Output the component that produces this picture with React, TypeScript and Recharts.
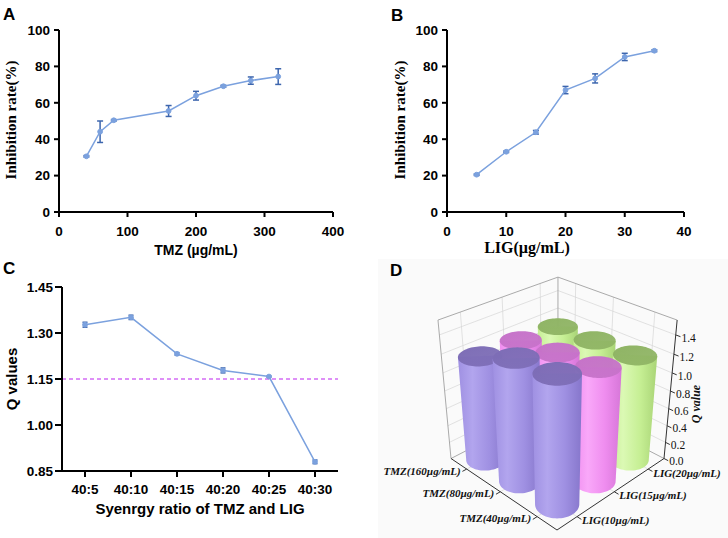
import React from 'react';
import { LineChart, Line, XAxis, YAxis, ErrorBar, ReferenceLine, Customized, ComposedChart } from 'recharts';

// ---------- Data ----------
const TMZ_DOSE = [40, 60, 80, 160, 200, 240, 280, 320];
const TMZ_INHIB = [30.6, 44.1, 50.4, 55.5, 63.9, 69.1, 72.2, 74.4];
const TMZ_ERR = [0.4, 5.9, 0.4, 3.0, 2.4, 0.5, 2.0, 4.3];
const TMZ_TICKS = [0, 100, 200, 300, 400];

const LIG_DOSE = [5, 10, 15, 20, 25, 30, 35];
const LIG_INHIB = [20.5, 33.1, 43.8, 67.0, 73.4, 85.2, 88.6];
const LIG_ERR = [0.4, 0.4, 1.0, 2.0, 2.5, 2.0, 0.5];
const LIG_TICKS = [0, 10, 20, 30, 40];

const INHIB_TICKS = [0, 20, 40, 60, 80, 100];

const RATIOS = ['40:5', '40:10', '40:15', '40:20', '40:25', '40:30'];
const Q_VALUES = [1.327, 1.351, 1.232, 1.178, 1.158, 0.88];
const Q_ERR = [0.008, 0.007, 0.004, 0.008, 0.002, 0.006];
const Q_TICKS_C = [0.85, 1.0, 1.15, 1.3, 1.45];
const Q_THRESHOLD = 1.15;

// Panel D: Q values by LIG level, each listed for TMZ 40, 80, 160
const TMZ_LEVELS = ['TMZ(40µg/mL)', 'TMZ(80µg/mL)', 'TMZ(160µg/mL)'];
const LIG_LEVELS = ['LIG(10µg/mL)', 'LIG(15µg/mL)', 'LIG(20µg/mL)'];
const Q_LIG10 = [1.39, 1.35, 1.18];
const Q_LIG15 = [1.26, 1.22, 1.17];
const Q_LIG20 = [1.19, 1.17, 1.15];
const Q_TICKS_D = [0, 0.2, 0.4, 0.6, 0.8, 1.0, 1.2, 1.4];

const dataA = TMZ_DOSE.map((x, i) => ({ x, y: TMZ_INHIB[i], e: TMZ_ERR[i] }));
const dataB = LIG_DOSE.map((x, i) => ({ x, y: LIG_INHIB[i], e: LIG_ERR[i] }));
const dataC = RATIOS.map((r, i) => ({ r, y: Q_VALUES[i], e: Q_ERR[i] }));
const LIG_SERIES = [Q_LIG10, Q_LIG15, Q_LIG20];
const cylData: { i: number; j: number; q: number }[] = [];
LIG_SERIES.forEach((vals, j) => vals.forEach((q, i) => cylData.push({ i, j, q })));

// ---------- Styles ----------
const SANS = '"Liberation Sans", Arial, Helvetica, sans-serif';
const SERIF = '"Liberation Serif", "Times New Roman", Times, serif';
const LINE = '#7ba1de';
const ERR = '#3d66ae';

const tickStyle = { fontSize: 13.5, fontWeight: 'bold', fill: '#000', fontFamily: SANS };
const axisLine = { stroke: '#000', strokeWidth: 2 };
const tickLine = { stroke: '#000', strokeWidth: 2 };
const dotStyle = { r: 2.4, fill: LINE, stroke: LINE, strokeWidth: 1 };

const Texts = (items: any[]) => () => (
  <g>
    {items.map((t, k) => (
      <text key={k} {...t.props}>{t.text}</text>
    ))}
  </g>
);

// ---------- Panel D projection ----------
const OX = 364, OY = 259;
const CAM = { cx: 557, cy: 400, z0: 6.6, k: 7.6, lean: 0.832, ax: -106, bx: 107, oy: 112.9, ay: -54.4, cz: -129.7, qMax: 1.55 };
function proj(u: number, v: number, q: number): [number, number] {
  const wn = q / CAM.qMax;
  const f = CAM.k / (CAM.z0 + u + v - CAM.lean * wn);
  const xo = u * CAM.ax + v * CAM.bx;
  const yo = CAM.oy + (u + v) * CAM.ay + wn * CAM.cz;
  return [CAM.cx + f * xo - OX, CAM.cy + f * yo - OY];
}
const pt = (p: [number, number]) => `${p[0].toFixed(2)},${p[1].toFixed(2)}`;
const line = (a: [number, number], b: [number, number], stroke: string, w: number, key: string) => (
  <line key={key} x1={a[0]} y1={a[1]} x2={b[0]} y2={b[1]} stroke={stroke} strokeWidth={w} />
);

const COLORS = [
  { top: '#7d6db6', light: '#b2a5ee', mid: '#9f90e2', dark: '#8676cb' },
  { top: '#c672c9', light: '#f9a8f9', mid: '#ef8def', dark: '#d676d8' },
  { top: '#8fb464', light: '#dbf9b4', mid: '#c6ef94', dark: '#a9d476' },
];

const CENTER = (k: number) => (2 * k + 1) / 6;
const RADIUS = 0.134;

function Cylinder({ i, j, q }: { i: number; j: number; q: number }) {
  const u0 = CENTER(i), v0 = CENTER(j);
  const N = 72;
  const bot: [number, number][] = [];
  const top: [number, number][] = [];
  for (let k = 0; k < N; k++) {
    const t = (2 * Math.PI * k) / N;
    const u = u0 + RADIUS * Math.cos(t);
    const v = v0 + RADIUS * Math.sin(t);
    bot.push(proj(u, v, 0));
    top.push(proj(u, v, q));
  }
  const ext = (arr: [number, number][]) => {
    let lo = 0, hi = 0;
    arr.forEach((p, k) => {
      if (p[0] < arr[lo][0]) lo = k;
      if (p[0] > arr[hi][0]) hi = k;
    });
    return [lo, hi];
  };
  const [bl, br] = ext(bot);
  const [tl, tr] = ext(top);
  const arc = (from: number, to: number, dir: number) => {
    const out: [number, number][] = [];
    let k = from;
    for (let n = 0; n <= N; n++) {
      out.push(bot[k]);
      if (k === to) break;
      k = (k + dir + N) % N;
    }
    return out;
  };
  const a1 = arc(bl, br, 1);
  const a2 = arc(bl, br, -1);
  const avg = (a: [number, number][]) => a.reduce((s, p) => s + p[1], 0) / a.length;
  const front = avg(a1) > avg(a2) ? a1 : a2;
  const body = `M${pt(top[tl])} L${front.map(pt).join(' L')} L${pt(top[tr])} Z`;
  const topPath = `M${top.map(pt).join(' L')} Z`;
  return (
    <g>
      <path d={body} fill={`url(#cyl${j})`} stroke="none" />
      <path d={topPath} fill={`url(#top${j})`} stroke="none" />
    </g>
  );
}

function Panel3D() {
  const grid = '#d6d6d6';
  const edge = '#a0a0a0';
  const els: any[] = [];
  const qm = CAM.qMax;
  // floor grid
  [0, 1, 2].forEach((k) => {
    els.push(line(proj(CENTER(k), 0, 0), proj(CENTER(k), 1, 0), grid, 0.7, `fu${k}`));
    els.push(line(proj(0, CENTER(k), 0), proj(1, CENTER(k), 0), grid, 0.7, `fv${k}`));
  });
  // wall grids
  Q_TICKS_D.forEach((q, k) => {
    if (q === 0) return;
    els.push(line(proj(1, 0, q), proj(1, 1, q), grid, 0.7, `wl${k}`));
    els.push(line(proj(0, 1, q), proj(1, 1, q), grid, 0.7, `wr${k}`));
  });
  [0, 1, 2].forEach((k) => {
    els.push(line(proj(1, CENTER(k), 0), proj(1, CENTER(k), qm), grid, 0.7, `vl${k}`));
    els.push(line(proj(CENTER(k), 1, 0), proj(CENTER(k), 1, qm), grid, 0.7, `vr${k}`));
  });
  // box edges
  els.push(line(proj(1, 0, 0), proj(1, 0, qm), edge, 0.9, 'e1'));
  els.push(line(proj(1, 1, 0), proj(1, 1, qm), edge, 0.9, 'e2'));
  els.push(line(proj(1, 0, qm), proj(1, 1, qm), edge, 0.9, 'e3'));
  els.push(line(proj(1, 1, qm), proj(0, 1, qm), edge, 0.9, 'e4'));
  els.push(line(proj(1, 0, 0), proj(1, 1, 0), edge, 0.9, 'e5'));
  els.push(line(proj(1, 1, 0), proj(0, 1, 0), edge, 0.9, 'e6'));
  // front floor axes
  els.push(line(proj(0, 0, 0), proj(1, 0, 0), '#333', 1, 'ax1'));
  els.push(line(proj(0, 0, 0), proj(0, 1, 0), '#333', 1, 'ax2'));
  const labelStyle = { fontFamily: SERIF, fontSize: 11, fontWeight: 'bold', fontStyle: 'italic', fill: '#111' };
  TMZ_LEVELS.forEach((lab, i) => {
    const a = proj(CENTER(i), 0, 0);
    const b = proj(CENTER(i), -0.035, 0);
    els.push(line(a, b, '#333', 1, `tt${i}`));
    els.push(
      <text key={`tl${i}`} x={a[0] - 6} y={a[1] + 3} textAnchor="end" dominantBaseline="middle" {...labelStyle}>{lab}</text>
    );
  });
  LIG_LEVELS.forEach((lab, j) => {
    const a = proj(0, CENTER(j), 0);
    const b = proj(-0.035, CENTER(j), 0);
    els.push(line(a, b, '#333', 1, `lt${j}`));
    els.push(
      <text key={`ll${j}`} x={a[0] + 5} y={a[1] + 5} textAnchor="start" dominantBaseline="middle" {...labelStyle}>{lab}</text>
    );
  });
  const cyls = [...cylData].sort((a, b) => b.i + b.j - (a.i + a.j));
  return (
    <g>
      <defs>
        {COLORS.map((c, j) => (
          <linearGradient key={`g${j}`} id={`cyl${j}`} x1="0" y1="0" x2="1" y2="0">
            <stop offset="0" stopColor={c.mid} />
            <stop offset="0.3" stopColor={c.light} />
            <stop offset="0.65" stopColor={c.mid} />
            <stop offset="1" stopColor={c.dark} />
          </linearGradient>
        ))}
        {COLORS.map((c, j) => (
          <linearGradient key={`t${j}`} id={`top${j}`} x1="0" y1="0" x2="1" y2="1">
            <stop offset="0" stopColor={c.top} />
            <stop offset="1" stopColor={c.top} stopOpacity={0.92} />
          </linearGradient>
        ))}
      </defs>
      <rect x={378 - OX} y={0} width={728 - 378} height={538 - OY} fill="#fafafa" />
      {els}
      {cyls.map((c) => (
        <Cylinder key={`c${c.i}${c.j}`} {...c} />
      ))}
      {/* Q axis */}
      {line(proj(0, 1, 0), proj(0, 1, qm), '#333', 1, 'qa')}
      {Q_TICKS_D.map((q, k) => {
        const a = proj(0, 1, q);
        const b = proj(-0.035, 1, q);
        return (
          <g key={`qt${k}`}>
            {line(a, b, '#333', 1, `qtl${k}`)}
            <text x={b[0] + 1} y={a[1] + 4} textAnchor="start" dominantBaseline="middle" fontFamily={SERIF} fontSize={11.5} fill="#111">
              {q.toFixed(1)}
            </text>
          </g>
        );
      })}
      <text x={697 - OX} y={404 - OY} transform={`rotate(-90 ${697 - OX} ${404 - OY})`} textAnchor="middle" dominantBaseline="middle" fontFamily={SERIF} fontSize={12} fontWeight="bold" fontStyle="italic" fill="#111">
        Q value
      </text>
      <text x={390 - OX} y={276 - OY} fontFamily={SANS} fontSize={17} fontWeight="bold" fill="#000">D</text>
    </g>
  );
}

export default function App() {
  return (
    <div style={{ position: 'absolute', left: 0, top: 0, width: 728, height: 538, background: '#fff', overflow: 'hidden' }}>
      {/* Panel A */}
      <div style={{ position: 'absolute', left: 0, top: 0 }}>
        <LineChart width={364} height={258} data={dataA} margin={{ top: 30, right: 31, bottom: 16, left: 19 }}>
          <XAxis type="number" dataKey="x" domain={[0, 400]} ticks={TMZ_TICKS} axisLine={axisLine} tickLine={tickLine} tickSize={5} tickMargin={9} tick={tickStyle} height={30} />
          <YAxis type="number" domain={[0, 100]} ticks={INHIB_TICKS} axisLine={axisLine} tickLine={tickLine} tickSize={5} tickMargin={4} tick={tickStyle} width={40} />
          <Line type="linear" dataKey="y" stroke={LINE} strokeWidth={1.5} dot={dotStyle} isAnimationActive={false}>
            <ErrorBar dataKey="e" direction="y" width={3} stroke={ERR} strokeWidth={1.5} />
          </Line>
          <Customized
            component={Texts([
              { text: 'A', props: { x: 3, y: 20, fontFamily: SANS, fontSize: 17, fontWeight: 'bold', fill: '#000' } },
              { text: 'TMZ (µg/mL)', props: { x: 196, y: 251, textAnchor: 'middle', dominantBaseline: 'middle', fontFamily: SANS, fontSize: 14, fontWeight: 'bold', fill: '#000' } },
              { text: 'Inhibition rate(%)', props: { x: 13, y: 120, textAnchor: 'middle', dominantBaseline: 'middle', transform: 'rotate(-90 13 120)', fontFamily: SERIF, fontSize: 15, fontWeight: 'bold', fill: '#000' } },
            ])}
          />
        </LineChart>
      </div>
      {/* Panel B */}
      <div style={{ position: 'absolute', left: 364, top: 0 }}>
        <LineChart width={364} height={259} data={dataB} margin={{ top: 30, right: 44, bottom: 17, left: 43 }}>
          <XAxis type="number" dataKey="x" domain={[0, 40]} ticks={LIG_TICKS} axisLine={axisLine} tickLine={tickLine} tickSize={5} tickMargin={9} tick={tickStyle} height={30} />
          <YAxis type="number" domain={[0, 100]} ticks={INHIB_TICKS} axisLine={axisLine} tickLine={tickLine} tickSize={5} tickMargin={4} tick={tickStyle} width={40} />
          <Line type="linear" dataKey="y" stroke={LINE} strokeWidth={1.5} dot={dotStyle} isAnimationActive={false}>
            <ErrorBar dataKey="e" direction="y" width={3} stroke={ERR} strokeWidth={1.5} />
          </Line>
          <Customized
            component={Texts([
              { text: 'B', props: { x: 27, y: 21, fontFamily: SANS, fontSize: 17, fontWeight: 'bold', fill: '#000' } },
              { text: 'LIG(µg/mL)', props: { x: 163, y: 249, textAnchor: 'middle', dominantBaseline: 'middle', fontFamily: SERIF, fontSize: 16, fontWeight: 'bold', fill: '#000' } },
              { text: 'Inhibition rate(%)', props: { x: 38, y: 120, textAnchor: 'middle', dominantBaseline: 'middle', transform: 'rotate(-90 38 120)', fontFamily: SERIF, fontSize: 15, fontWeight: 'bold', fill: '#000' } },
            ])}
          />
        </LineChart>
      </div>
      {/* Panel C */}
      <div style={{ position: 'absolute', left: 0, top: 258 }}>
        <LineChart width={364} height={280} data={dataC} margin={{ top: 29, right: 26, bottom: 37, left: 22 }}>
          <XAxis type="category" dataKey="r" padding={{ left: 23, right: 23 }} axisLine={axisLine} tickLine={tickLine} tickSize={6} tickMargin={7} tick={tickStyle} height={30} interval={0} />
          <YAxis type="number" domain={[0.85, 1.45]} ticks={Q_TICKS_C} tickFormatter={(v: number) => v.toFixed(2)} axisLine={axisLine} tickLine={tickLine} tickSize={7} tickMargin={2} tick={tickStyle} width={40} />
          <ReferenceLine y={Q_THRESHOLD} stroke="#d36cf5" strokeWidth={1.5} strokeDasharray="4 3" />
          <Line type="linear" dataKey="y" stroke={LINE} strokeWidth={1.5} dot={dotStyle} isAnimationActive={false}>
            <ErrorBar dataKey="e" direction="y" width={2.5} stroke={ERR} strokeWidth={1.5} />
          </Line>
          <Customized
            component={Texts([
              { text: 'C', props: { x: 3, y: 16, fontFamily: SANS, fontSize: 17, fontWeight: 'bold', fill: '#000' } },
              { text: 'Syenrgy ratio of TMZ and LIG', props: { x: 200, y: 252, textAnchor: 'middle', dominantBaseline: 'middle', fontFamily: SANS, fontSize: 15, fontWeight: 'bold', fill: '#000' } },
              { text: 'Q values', props: { x: 13, y: 121, textAnchor: 'middle', dominantBaseline: 'middle', transform: 'rotate(-90 13 121)', fontFamily: SANS, fontSize: 15, fontWeight: 'bold', fill: '#000' } },
            ])}
          />
        </LineChart>
      </div>
      {/* Panel D */}
      <div style={{ position: 'absolute', left: OX, top: OY }}>
        <ComposedChart width={728 - OX} height={538 - OY} data={cylData} margin={{ top: 0, right: 0, bottom: 0, left: 0 }}>
          <Customized component={Panel3D} />
        </ComposedChart>
      </div>
    </div>
  );
}
